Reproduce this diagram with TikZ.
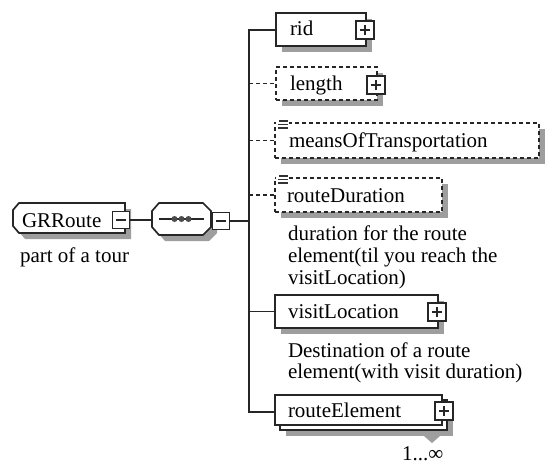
\documentclass[tikz,border=0pt]{standalone}
\usepackage{fontspec}
\setmainfont{Liberation Serif}
\usetikzlibrary{shadows}

\begin{document}
\begin{tikzpicture}[x=1pt,y=-1pt,
  font=\fontsize{21}{22}\selectfont,
  every node/.style={inner sep=0pt, outer sep=0pt},
  ink/.style={draw=black!85, line width=1.7pt},
  shade/.style={drop shadow={shadow xshift=6pt, shadow yshift=-6pt, opacity=1, fill=black!38, draw=none}},
  elem/.style={ink, fill=white, rectangle, anchor=north west},
  optline/.style={dash pattern=on 4pt off 3pt},
  conn/.style={draw=black!85, line width=1.7pt},
  lbl/.style={anchor=base west},
  pbox/.style={ink, line width=1.5pt, fill=white, rectangle, minimum size=18pt,
    path picture={
      \draw[line width=1.5pt] ([xshift=-5pt]path picture bounding box.center) -- ([xshift=5pt]path picture bounding box.center)
        ([yshift=-5pt]path picture bounding box.center) -- ([yshift=5pt]path picture bounding box.center);}},
  mbox/.style={ink, line width=1.5pt, fill=white, rectangle, minimum size=17pt,
    path picture={
      \draw[line width=1.5pt] ([xshift=-5pt]path picture bounding box.center) -- ([xshift=5pt]path picture bounding box.center);}},
]
\useasboundingbox (0,0) rectangle (547,464);

% root element: box with bevelled left corners
\draw[ink, fill=white, shade] (13,210) -- (19,203) -- (125,203) -- (125,233) -- (19,233) -- (13,226) -- cycle;
\coordinate (gr) at (69,218);
\node[lbl] (grt) at (22,227) {GRRoute};
\node[mbox] (grm) at (121,220) {};
\node[lbl] (grd) at (20,262) {part of a tour};

% sequence compositor: octagon
\draw[ink, fill=white, shade] (152,211) -- (159,203) -- (203,203) -- (211,211) -- (211,227) -- (203,235) -- (159,235) -- (152,227) -- cycle;
\coordinate (seq) at (181.5,219);
\coordinate (seqw) at (152,219);
\draw[line width=1.4pt, black!85] ([xshift=-23pt]seq) -- ([xshift=22pt]seq);
\foreach \d in {-7,0,7}
  \fill[black!70] ([xshift=\d pt]seq) circle (3pt);
\node[mbox] (seqm) at (221,221) {};

\draw[conn] (grm.east) -- (grm.east -| seqw);

% vertical bus
\coordinate (bt) at (249,30);
\coordinate (bb) at (249,412);
\draw[conn, line cap=rect] (bt) -- (bb);
\draw[conn] (seqm.east) -- (seqm.east -| bt);

% rid
\node[elem, shade, minimum width=90pt, minimum height=33pt] (rid) at (276,13) {};
\node[lbl] (ridt) at (290,35.5) {rid};
\node[pbox] (ridp) at (365,30) {};
\draw[conn] (bt) -- (bt -| rid.west);

% length (optional)
\node[elem, optline, shade, minimum width=101pt, minimum height=33pt] (len) at (276,67) {};
\node[lbl] (lent) at (290,90) {length};
\node[pbox] (lenp) at (376,85) {};
\draw[conn, optline] (bt |- len.west) -- (len.west);

% meansOfTransportation (optional, simple content)
\node[elem, optline, shade, minimum width=264pt, minimum height=35pt] (mot) at (275,123) {};
\node[lbl] (mott) at (289,147) {meansOfTransportation};
\draw[conn, optline] (bt |- mot.west) -- (mot.west);
\fill[white] (276,119) rectangle (289,131);
\draw[line width=1.4pt, black!80] (279,121) -- (288,121) (278,124.5) -- (288,124.5) (278,128) -- (288,128);

% routeDuration (optional, simple content)
\node[elem, optline, shade, minimum width=167pt, minimum height=34pt] (dur) at (275,178) {};
\node[lbl] (durt) at (287,202) {routeDuration};
\draw[conn, optline] (bt |- dur.west) -- (dur.west);
\fill[white] (276,174) rectangle (289,186);
\draw[line width=1.4pt, black!80] (279,176) -- (288,176) (278,179.5) -- (288,179.5) (278,183) -- (288,183);
\node[lbl] (durd1) at (288,240) {duration for the route};
\node[lbl] (durd2) at (288,262) {element(til you reach the};
\node[lbl] (durd3) at (288,284) {visitLocation)};

% visitLocation
\node[elem, shade, minimum width=163pt, minimum height=33pt] (vis) at (275,295) {};
\node[lbl] (vist) at (288,318) {visitLocation};
\node[pbox] (visp) at (437,312) {};
\draw[conn] (bt |- vis.west) -- (vis.west);
\node[lbl] (visd1) at (288,357) {Destination of a route};
\node[lbl] (visd2) at (288,378) {element(with visit duration)};

% routeElement (repeated 1..unbounded)
\node[elem, shade, minimum width=167pt, minimum height=30pt] (relb) at (280,400) {};
\fill[black!38] (424,436) -- (440,436) -- (432,443) -- cycle;
\node[elem, minimum width=167pt, minimum height=30pt] (rel) at (275,395) {};
\node[lbl] (relt) at (288,417) {routeElement};
\node[pbox] (relp) at (444,411) {};
\draw[conn] (bb) -- (bb -| rel.west);
\node[lbl] (relm) at (402,460) {1...∞};
\end{tikzpicture}
\end{document}
